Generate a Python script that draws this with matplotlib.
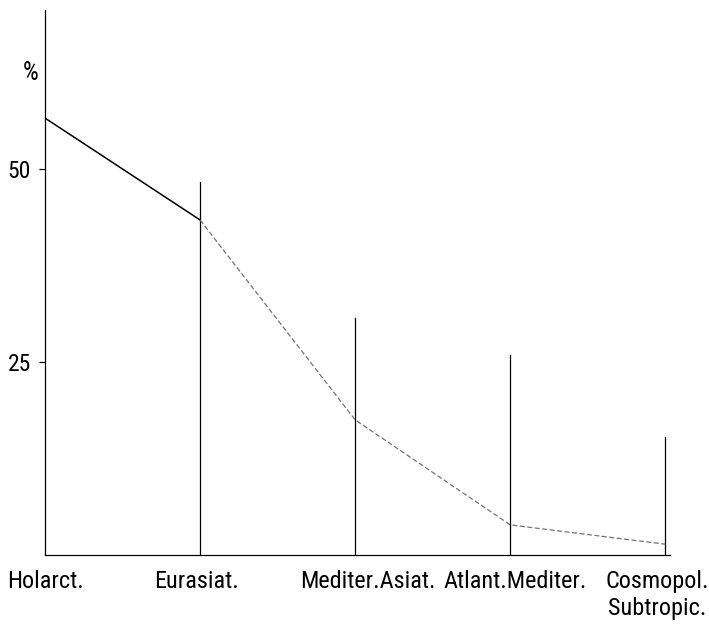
import matplotlib.pyplot as plt
from matplotlib import font_manager

categories = ["Holarct.", "Eurasiat.", "Mediter.Asiat.", "Atlant.Mediter.", "Cosmopol.\nSubtropic."]
percent = [56.6, 43.4, 17.5, 3.9, 1.4]
# height of the vertical guide lines above each category
guide_top = [None, 48.3, 30.7, 25.9, 15.3]
y_ticks = [25, 50]

# pick a narrow face if one is installed
installed = {f.name for f in font_manager.fontManager.ttflist}
narrow = [n for n in ["Liberation Sans Narrow", "DejaVu Sans Condensed", "Roboto Condensed",
                      "Open Sans Condensed"] if n in installed]
if narrow:
    plt.rcParams['font.family'] = [narrow[0], 'DejaVu Sans']
    lab_size, tick_size = 17.5, 17
else:
    plt.rcParams['font.family'] = ['DejaVu Sans']
    lab_size, tick_size = 13, 15
plt.rcParams['font.stretch'] = 'condensed'

fig = plt.figure(figsize=(7.09, 6.28), dpi=100)
ax = fig.add_axes([45 / 709, 73 / 628, 625 / 709, 545 / 628])

x = list(range(len(categories)))

# vertical guides
for xi, top in zip(x, guide_top):
    if top is not None:
        ax.plot([xi, xi], [0, top], color="black", lw=0.9)

# first segment is drawn solid, the rest is faint in the original
ax.plot(x[:2], percent[:2], color="black", lw=1.1)
ax.plot(x[1:], percent[1:], color="0.45", lw=0.9, ls=(0, (4, 2)))

ax.set_xlim(0, 4.03)
ax.set_ylim(0, 70.6)
ax.spines["top"].set_visible(False)
ax.spines["right"].set_visible(False)
ax.spines["left"].set_linewidth(0.9)
ax.spines["bottom"].set_linewidth(0.9)

ax.set_yticks(y_ticks)
ax.set_yticklabels([str(v) for v in y_ticks], fontsize=tick_size)
ax.tick_params(axis="y", length=4, width=0.9, pad=6)

ax.set_xticks(x)
ax.set_xticklabels([])
ax.tick_params(axis="x", length=0)

# label centres, in category units
label_shift = [0.005, -0.02, 0.08, 0.03, -0.05]
for xi, dx, lab in zip(x, label_shift, categories):
    lines = lab.split("\n")
    for k, line in enumerate(lines):
        ax.text(xi + dx, -2.0 - 3.4 * k, line, ha="center", va="top", fontsize=lab_size)

ax.text(-0.09, 62.5, "%", ha="center", va="center", fontsize=tick_size + 1)

fig.savefig("out.png", dpi=100)
